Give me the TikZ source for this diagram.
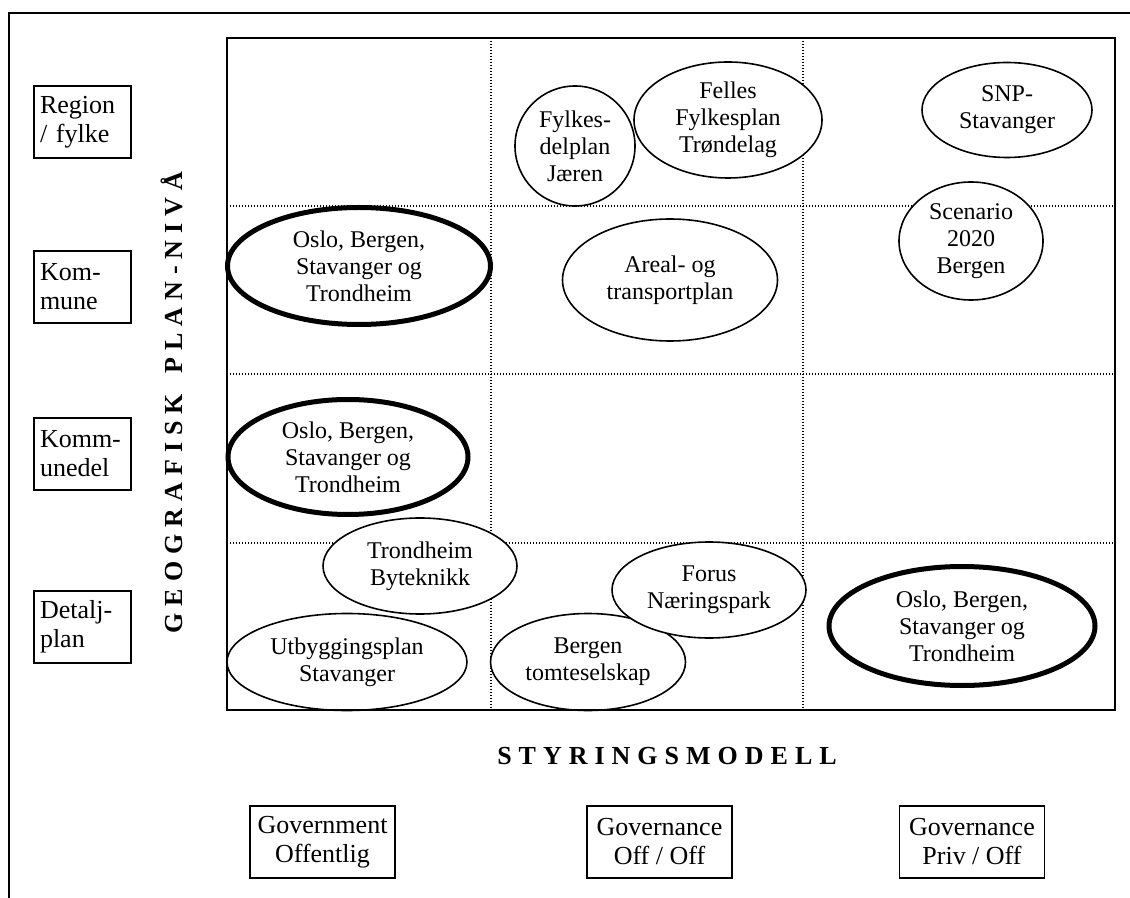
\documentclass[tikz,border=0pt]{standalone}
\usepackage{fontspec}
\setmainfont{Liberation Serif}
\usetikzlibrary{shapes.geometric}

% letter-spaced caption text: a kern after every letter but the last
\newcommand\spacedcaps[1]{\spcA#1\relax}
\def\spcA#1#2{#1\ifx\relax#2\else\kern3.5pt\expandafter\spcA\expandafter#2\fi}

\begin{document}
\begin{tikzpicture}[x=0.5pt,y=-0.5pt,
  frame/.style={line width=0.8pt},
  gridline/.style={line width=0.6pt, dash pattern=on 0.6pt off 0.9pt},
  plan/.style={ellipse, draw, fill=white, line width=0.8pt, inner sep=0pt,
    align=center, font=\fontsize{12}{13.5}\selectfont},
  keyplan/.style={plan, line width=2.5pt},
  lvlbox/.style={draw, line width=0.8pt, minimum width=48.5pt, minimum height=36pt,
    text width=42.5pt, inner sep=3pt, align=left, font=\fontsize{13}{14.5}\selectfont},
  modelbox/.style={draw, line width=0.8pt, minimum width=72.5pt, minimum height=36pt,
    inner sep=3pt, align=center, font=\fontsize{13}{14.5}\selectfont},
  axistitle/.style={font=\fontsize{13}{15}\selectfont\bfseries, inner sep=0pt, anchor=base}
]
\useasboundingbox (0,0) rectangle (1130,898);

% outer frame (top and left edges)
\draw[frame] (9,898) -- (9,13) -- (1130,13);

% dotted grid of the matrix
\draw[gridline] (491,38) -- (491,710);
\draw[gridline] (803,38) -- (803,710);
\draw[gridline] (227,206) -- (1115,206);
\draw[gridline] (227,374) -- (1115,374);
\draw[gridline] (227,543) -- (1115,543);

% plans placed in the matrix
\node[plan, minimum width=60pt, minimum height=60pt] (jaeren) at (575,146) {Fylkes-\\delplan\\Jæren};
\node[plan, minimum width=94pt, minimum height=58pt] (felles) at (728,120) {Felles\\Fylkesplan\\Trøndelag};
\node[plan, minimum width=85pt, minimum height=47.5pt] (snp) at (1007,110) {SNP-\\Stavanger};
\node[plan, minimum width=72pt, minimum height=59pt] (scenario) at (971,241) {Scenario\\2020\\Bergen};
\node[keyplan, minimum width=131.5pt, minimum height=58.5pt] (oslokom) at (359,266) {Oslo, Bergen,\\Stavanger og\\Trondheim};
\node[plan, minimum width=107.5pt, minimum height=61pt] (areal) at (670,280) {Areal- og\\transportplan};
\node[keyplan, minimum width=120pt, minimum height=57.5pt] (oslodel) at (348,457) {Oslo, Bergen,\\Stavanger og\\Trondheim};
\node[plan, minimum width=97pt, minimum height=48pt] (byteknikk) at (420,566) {Trondheim\\Byteknikk};
\node[plan, minimum width=120pt, minimum height=48.5pt] (utbygging) at (347,662) {Utbyggingsplan\\Stavanger};
\node[plan, minimum width=97.5pt, minimum height=48.5pt] (tomt) at (588,662) {Bergen\\tomteselskap};
\node[plan, minimum width=97pt, minimum height=48pt] (forus) at (709,590) {Forus\\Næringspark};
\node[keyplan, minimum width=133pt, minimum height=59.5pt] (oslodet) at (962,626) {Oslo, Bergen,\\Stavanger og\\Trondheim};

% matrix border
\draw[frame] (227,38) rectangle (1115,710);

% plan levels
\node[lvlbox] (region) at (82.5,122) {Region\\/ fylke};
\node[lvlbox] (kommune) at (82.5,287) {Kom-\\mune};
\node[lvlbox] (kommunedel) at (82.5,454) {Komm-\\unedel};
\node[lvlbox] (detalj) at (82.5,627) {Detalj-\\plan};

% governance models
\node[modelbox] (government) at (322.5,842) {Government\\Offentlig};
\node[modelbox] (offoff) at (659.5,842) {Governance\\Off / Off};
\node[modelbox] (privoff) at (972,842) {Governance\\Priv / Off};

% axis titles
\node[axistitle, rotate=90] (yaxis) at (182,402.5) {\spacedcaps{GEOGRAFISK~PLAN-NIVÅ}};
\node[axistitle] (xaxis) at (667,764) {\spacedcaps{STYRINGSMODELL}};
\end{tikzpicture}
\end{document}
